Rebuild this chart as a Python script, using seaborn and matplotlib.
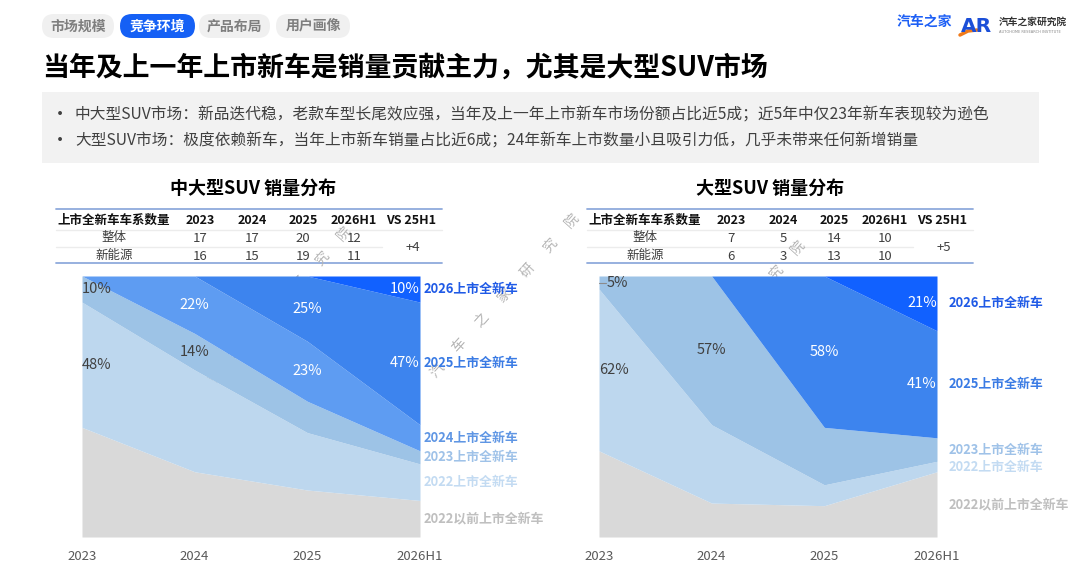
import matplotlib
matplotlib.use("Agg")
import matplotlib.pyplot as plt
import matplotlib.transforms as mtransforms
from matplotlib.patches import FancyBboxPatch, Rectangle
import pandas as pd
import seaborn as sns

# ---- data ----
periods = ["2023", "2024", "2025", "2026H1"]
period_years = [2023, 2024, 2025, 2026]

# 中大型SUV, share of sales (%) by launch year of the model
mid_series = ["2022以前上市全新车", "2022上市全新车", "2023上市全新车",
              "2024上市全新车", "2025上市全新车", "2026上市全新车"]
mid_launch = [2021, 2022, 2023, 2024, 2025, 2026]
mid_old = [42, 25, 18, 14]
mid_2022 = [48, 39, 22, 14]
mid_2023 = [10, 14, 12, 5]
mid_2024 = [0, 22, 23, 10]
mid_2025 = [0, 0, 25, 47]
mid_2026 = [0, 0, 0, 10]

# 大型SUV
large_series = ["2022以前上市全新车", "2022上市全新车", "2023上市全新车",
                "2025上市全新车", "2026上市全新车"]
large_launch = [2021, 2022, 2023, 2025, 2026]
large_old = [33, 13, 12, 25]
large_2022 = [62, 30, 8, 4]
large_2023 = [5, 57, 22, 9]
large_2025 = [0, 0, 58, 41]
large_2026 = [0, 0, 0, 21]

# table: number of new model lines
table_cols = ["上市全新车车系数量", "2023", "2024", "2025", "2026H1", "VS 25H1"]
mid_total = [17, 17, 20, 12]
mid_nev = [16, 15, 19, 11]
mid_vs = "+4"
large_total = [7, 5, 14, 10]
large_nev = [6, 3, 13, 10]
large_vs = "+5"

tabs = ["市场规模", "竞争环境", "产品布局", "用户画像"]
title = "当年及上一年上市新车是销量贡献主力，尤其是大型SUV市场"
bullets = [
    "中大型SUV市场：新品迭代稳，老款车型长尾效应强，当年及上一年上市新车市场份额占比近5成；近5年中仅23年新车表现较为逊色",
    "大型SUV市场：极度依赖新车，当年上市新车销量占比近6成；24年新车上市数量小且吸引力低，几乎未带来任何新增销量",
]

band_colors = {2021: "#d9d9d9", 2022: "#bdd7ee", 2023: "#9dc3e6",
               2024: "#5e9cf2", 2025: "#3d84ee", 2026: "#1161ff"}
label_colors = {2021: "#bfbfbf", 2022: "#c3dbf2", 2023: "#9fc2e8",
                2024: "#5f96e4", 2025: "#3a7be4", 2026: "#1f5ae6"}

sns.set_theme(style="white")
plt.rcParams["font.family"] = ["Noto Sans CJK SC", "DejaVu Sans"]

W, H = 1080, 573
fig = plt.figure(figsize=(W / 100, H / 100), dpi=100)

# background axes in pixel units for the slide furniture
bg = fig.add_axes([0, 0, 1, 1], zorder=0)
bg.set_xlim(0, W)
bg.set_ylim(H, 0)
bg.axis("off")

# tabs
tab_x = [(42, 114), (120, 195), (199, 270), (276, 350)]
for name, (x0, x1) in zip(tabs, tab_x):
    active = name == "竞争环境"
    bg.add_patch(FancyBboxPatch((x0, 14), x1 - x0, 24,
                                boxstyle="round,pad=0,rounding_size=12",
                                fc="#1560f5" if active else "#f0f0f0", ec="none"))
    bg.text((x0 + x1) / 2, 26.5, name, ha="center", va="center", fontsize=10,
            weight="bold", color="white" if active else "#7f7f7f")

# logo
bg.text(897, 22, "汽车之家", fontsize=10, weight="heavy", color="#1d5ff5", va="center")
bg.text(961, 27, "AR", fontsize=14.5, weight="bold", color="#1b4fd8", va="center",
        family="DejaVu Sans")
bg.plot([960, 968, 977], [35, 31, 30], color="#f07a1a", lw=2.5, solid_capstyle="round")
bg.text(999, 22, "汽车之家研究院", fontsize=7, weight="bold", color="#333333", va="center")
bg.text(999, 32, "AUTOHOME RESEARCH INSTITUTE", fontsize=2.6, color="#888888", va="center",
        family="DejaVu Sans")

# title and summary box
bg.text(42, 68, title, fontsize=19.4, weight="bold", color="#000000", va="center")
bg.add_patch(Rectangle((42, 92), 997, 71, fc="#f2f2f2", ec="none"))
for i, line in enumerate(bullets):
    y = 115 + i * 26
    bg.text(51, y, "•", fontsize=13, color="#404040", va="center")
    bg.text(75, y, line, fontsize=11.3, color="#404040", va="center")

# watermark (under the charts)
wm = "汽车之家研究院"
for end_x, end_y in [(344, 233), (572, 220), (798, 247)]:
    for k, ch in enumerate(wm):
        bg.text(end_x - (6 - k) * 22.5, end_y + (6 - k) * 25, ch, fontsize=10,
                color="#b5b5b5", rotation=48, ha="center", va="center")


def draw_table(left, col_vals_total, col_vals_nev, vs):
    offs = [58, 144, 196, 247, 298, 355]
    width = 386
    bg.plot([left, left + width], [209, 209], color="#8faadc", lw=1.3)
    bg.plot([left, left + width], [263, 263], color="#8faadc", lw=1.3)
    bg.plot([left, left + width], [229.5, 229.5], color="#ececec", lw=1)
    bg.plot([left, left + 326], [247, 247], color="#ececec", lw=1)
    for off, name in zip(offs, table_cols):
        bg.text(left + off, 220, name, ha="center", va="center", fontsize=9,
                weight="bold", color="#111111")
    for y, row_name, vals in [(238, "整体", col_vals_total), (256, "新能源", col_vals_nev)]:
        bg.text(left + offs[0], y, row_name, ha="center", va="center", fontsize=9,
                color="#404040")
        for off, v in zip(offs[1:5], vals):
            bg.text(left + off, y, str(v), ha="center", va="center", fontsize=9.5,
                    color="#404040")
    bg.text(left + offs[5] + 2, 247.5, vs, ha="center", va="center", fontsize=9.5,
            color="#404040")


def draw_area(rect, names, launch, values, lab_off):
    ax = fig.add_axes(rect, zorder=2)
    ax.set_facecolor("none")
    df = pd.DataFrame(dict(zip(names, values)), index=periods)
    x = list(range(len(periods)))
    ax.stackplot(x, *[df[n].values for n in names],
                 colors=[band_colors[y] for y in launch], lw=0)
    ax.set_xlim(0, len(periods) - 1)
    ax.set_ylim(0, 100)
    ax.set_yticks([])
    ax.set_xticks(x)
    ax.set_xticklabels(periods, fontsize=9.5, color="#595959")
    ax.tick_params(axis="x", length=0, pad=9)
    sns.despine(ax=ax, left=True, bottom=True)
    ax.grid(False)

    top = df.cumsum(axis=1)
    bottom = top - df
    mid = (top + bottom) / 2
    last = len(periods) - 1
    for i, yr in enumerate(period_years):
        ha = "left" if i == 0 else ("right" if i == last else "center")
        for n, ly in zip(names, launch):
            v = df.loc[periods[i], n]
            if v <= 0 or ly not in (yr, yr - 1):
                continue
            col = "#404040" if ly <= 2023 else "white"
            xt = i
            if i == 0 and v < 8:
                ax.plot([0, 0.06], [mid.loc[periods[i], n]] * 2, color="#8c8c8c", lw=0.8)
                xt = 0.07
            ax.text(xt, mid.loc[periods[i], n], f"{v}%", ha=ha, va="center",
                    fontsize=10.5, color=col)
    tr = mtransforms.blended_transform_factory(ax.transAxes, ax.transData)
    for n, ly in zip(names, launch):
        ax.text(1 + lab_off, mid.loc[periods[last], n], n, transform=tr, ha="left",
                va="center", fontsize=9.3, weight="bold", color=label_colors[ly],
                clip_on=False)
    return ax


# left panel
bg.text(253, 188, "中大型SUV 销量分布", ha="center", va="center", fontsize=13,
        weight="bold", color="#000000")
draw_table(56, mid_total, mid_nev, mid_vs)
draw_area([82 / W, 1 - 537 / H, 338 / W, 261 / H], mid_series, mid_launch,
          [mid_old, mid_2022, mid_2023, mid_2024, mid_2025, mid_2026], 0.01)

# right panel
bg.text(770, 188, "大型SUV 销量分布", ha="center", va="center", fontsize=13,
        weight="bold", color="#000000")
draw_table(587, large_total, large_nev, large_vs)
draw_area([599 / W, 1 - 537 / H, 338 / W, 261 / H], large_series, large_launch,
          [large_old, large_2022, large_2023, large_2025, large_2026], 0.033)

fig.savefig("out.png", dpi=100)
